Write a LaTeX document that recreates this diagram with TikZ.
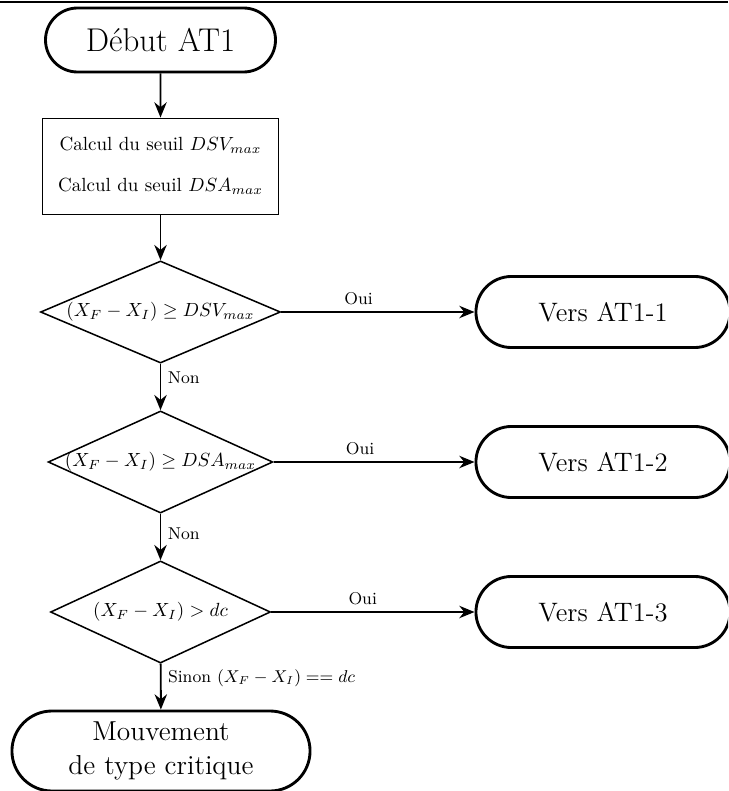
\documentclass[tikz,border=0pt]{standalone}
\usetikzlibrary{shapes.geometric,shapes.misc,arrows.meta}
\begin{document}
\begin{tikzpicture}[x=0.525pt,y=-0.525pt,
  debutfin/.style={draw,rounded rectangle,line width=1.5pt,inner sep=0pt,align=center},
  calcul/.style={draw,rectangle,line width=0.5pt,align=center,minimum width=123.9pt,minimum height=50.4pt},
  decision/.style={draw,diamond,aspect=2.5,line width=0.8pt,inner sep=0pt,minimum height=53.6pt},
  fleche/.style={-{Stealth[length=8pt,width=6.5pt]},line width=1pt},
  rep/.style={font=\small}]
\useasboundingbox (0,0) rectangle (728,791);
\clip (0,0) rectangle (728,791);
\draw[line width=1.4pt] (0,2) -- (728,2);

% colonne de gauche
\node[debutfin,minimum width=120.75pt,minimum height=33.6pt,font=\LARGE] (debut) at (160.5,40) {Début AT1};
\node[calcul] (seuils) at (160.5,166) {Calcul du seuil $DSV_{max}$\\[9.5pt]Calcul du seuil $DSA_{max}$};
\node[decision,minimum width=126pt] (test1) at (160.5,312) {$(X_F - X_I) \geq DSV_{max}$};
\node[decision,minimum width=117.6pt,inner xsep=-3.7pt] (test2) at (160.5,462) {$(X_F - X_I) \geq DSA_{max}$};
\node[decision,minimum width=115.5pt] (test3) at (160.5,612) {$(X_F - X_I) > dc$};
\node[debutfin,minimum width=156.5pt,minimum height=42pt,font=\Large] (critique) at (161,751) {Mouvement\\de type critique};

% sorties
\node[debutfin,minimum width=133.4pt,minimum height=37.3pt,font=\fontsize{14}{17}\selectfont] (at11) at (603,312) {Vers AT1-1};
\node[debutfin,minimum width=133.4pt,minimum height=37.3pt,font=\fontsize{14}{17}\selectfont] (at12) at (603,462) {Vers AT1-2};
\node[debutfin,minimum width=133.4pt,minimum height=37.3pt,font=\fontsize{14}{17}\selectfont] (at13) at (603,612) {Vers AT1-3};

\draw[fleche] (debut) -- (seuils);
\draw[fleche] (seuils) -- (test1);
\draw[fleche] (test1) -- node[pos=0.3,right,rep] {Non} (test2);
\draw[fleche] (test2) -- node[pos=0.42,right,rep] {Non} (test3);
\draw[fleche] (test3) -- node[pos=0.31,right,rep] {Sinon $(X_F - X_I) == dc$} (critique);
\draw[fleche] (test1) -- node[pos=0.4,above,rep] {Oui} (at11);
\draw[fleche] (test2) -- node[pos=0.43,above,rep] {Oui} (at12);
\draw[fleche] (test3) -- node[pos=0.45,above,rep] {Oui} (at13);
\end{tikzpicture}
\end{document}
